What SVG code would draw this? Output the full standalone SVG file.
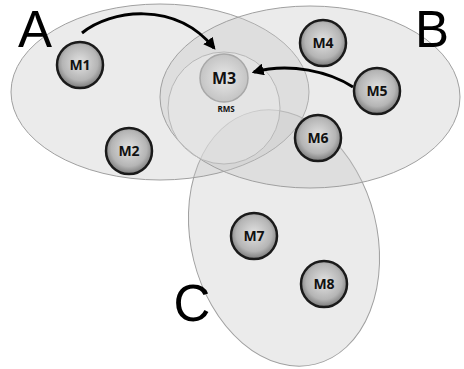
<svg xmlns="http://www.w3.org/2000/svg" width="464" height="369" viewBox="0 0 464 369">
<style>
.region{fill:#c8c8c8;fill-opacity:0.36;stroke:#a0a0a0;stroke-width:1}
.node{fill:url(#ng);stroke:#1a1a1a;stroke-width:2.5}
.lbl{font-family:"Open Sans","DejaVu Sans",sans-serif;font-weight:bold;font-size:14px;fill:#111;text-anchor:middle}
.big{font-family:"Liberation Sans","DejaVu Sans",sans-serif;font-size:51px;fill:#000;text-anchor:middle}
.conn{fill:none;stroke:#000;stroke-width:3}
</style>
<defs>
<radialGradient id="ng" cx="0.5" cy="0.45" r="0.55">
<stop offset="0" stop-color="#e2e2e2"/>
<stop offset="0.7" stop-color="#b5b5b5"/>
<stop offset="1" stop-color="#7a7a7a"/>
</radialGradient>
<radialGradient id="ng3" cx="0.5" cy="0.5" r="0.5">
<stop offset="0" stop-color="#e8e8e8"/>
<stop offset="1" stop-color="#c4c4c4"/>
</radialGradient>
<marker id="ah" viewBox="0 0 10 10" refX="8" refY="5" markerWidth="4" markerHeight="4" orient="auto" markerUnits="strokeWidth">
<path d="M0,0 L10,5 L0,10 z" fill="#000"/>
</marker>
</defs>
<rect width="464" height="369" fill="#fff"/>
<g id="regions">
<ellipse id="region-C" class="region" cx="284" cy="238" rx="93" ry="130" transform="rotate(-14 284 238)"/>
<ellipse id="region-A" class="region" cx="160" cy="92" rx="149" ry="88"/>
<ellipse id="region-B" class="region" cx="310" cy="97" rx="150" ry="91"/>
<circle cx="224" cy="108" r="56" fill="#f2f2f2" fill-opacity="0.3" stroke="#b8b8b8" stroke-width="1"/>
</g>
<g id="labels">
<text class="big" x="35" y="47">A</text>
<text class="big" x="432" y="47">B</text>
<text class="big" x="192" y="321">C</text>
</g>
<g id="connectors">
<path class="conn" d="M82 33 C110 10 175 0 214 48" marker-end="url(#ah)"/>
<path class="conn" d="M353 87 C330 72 290 62 254 72" marker-end="url(#ah)"/>
</g>
<g id="node-M1"><circle class="node" cx="80" cy="65" r="23"/><text class="lbl" x="80" y="70">M1</text></g>
<g id="node-M2"><circle class="node" cx="129" cy="151" r="23"/><text class="lbl" x="129" y="156">M2</text></g>
<g id="node-M3"><circle cx="224" cy="78" r="24" fill="url(#ng3)" stroke="#a8a8a8" stroke-width="1.5"/><text class="lbl" x="224" y="84" style="font-size:16px">M3</text><text class="lbl" x="226" y="112" style="font-size:8px">RMS</text></g>
<g id="node-M4"><circle class="node" cx="323" cy="43" r="23"/><text class="lbl" x="323" y="48">M4</text></g>
<g id="node-M5"><circle class="node" cx="377" cy="91" r="23"/><text class="lbl" x="377" y="96">M5</text></g>
<g id="node-M6"><circle class="node" cx="318" cy="138" r="23"/><text class="lbl" x="318" y="143">M6</text></g>
<g id="node-M7"><circle class="node" cx="254" cy="236" r="23"/><text class="lbl" x="254" y="241">M7</text></g>
<g id="node-M8"><circle class="node" cx="324" cy="284" r="23"/><text class="lbl" x="324" y="289">M8</text></g>
</svg>
